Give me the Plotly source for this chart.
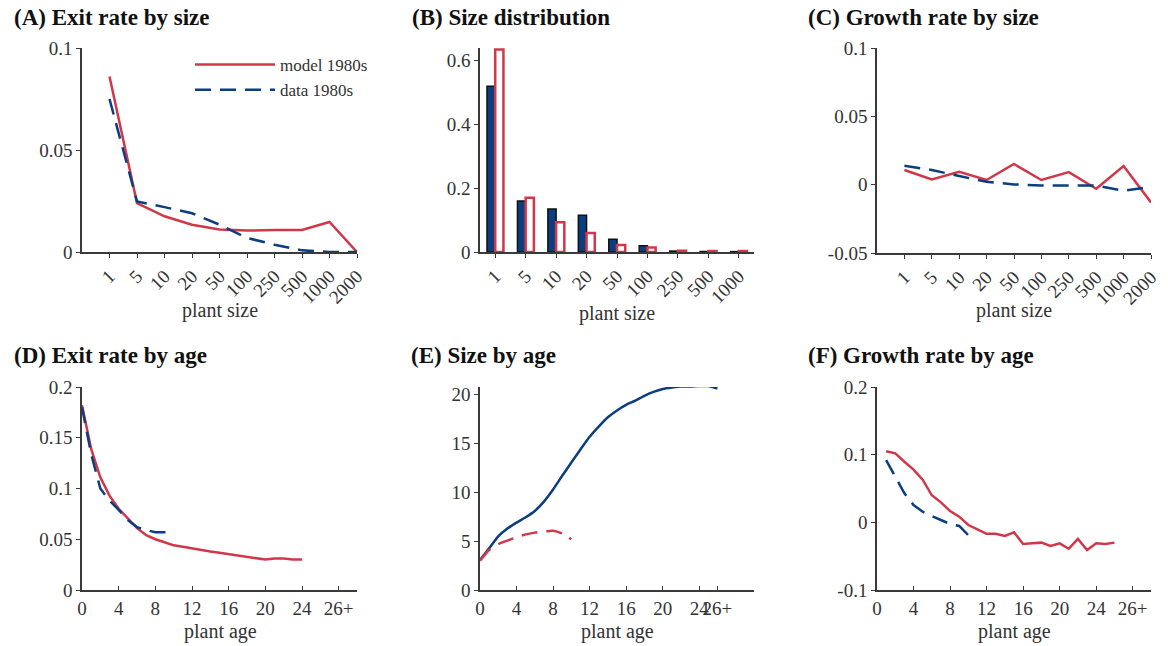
import plotly.graph_objects as go

# ---------------- data ----------------
size_cats = ["1", "5", "10", "20", "50", "100", "250", "500", "1000", "2000"]
exit_size_model = [0.086, 0.024, 0.0175, 0.0134, 0.011, 0.0105, 0.0108, 0.0108, 0.0147, 0.0]
exit_size_data = [0.075, 0.0248, 0.022, 0.019, 0.0134, 0.0069, 0.0036, 0.0008, 0.0, 0.0]

dist_cats = ["1", "5", "10", "20", "50", "100", "250", "500", "1000"]
dist_data = [0.52, 0.16, 0.135, 0.115, 0.04, 0.02, 0.003, 0.0015, 0.0012]
dist_model = [0.635, 0.17, 0.093, 0.06, 0.022, 0.014, 0.004, 0.003, 0.003]

growth_size_model = [0.0107, 0.0038, 0.0095, 0.0034, 0.0151, 0.0034, 0.0092, -0.003, 0.0137, -0.013]
growth_size_data = [0.0139, 0.0107, 0.0063, 0.0021, 0.0002, -0.0006, -0.0006, -0.0006, -0.0045, -0.0015]

age_exit_model = list(range(0, 25))
exit_age_model = [0.182, 0.139, 0.111, 0.093, 0.080, 0.070, 0.061, 0.054, 0.050, 0.047,
                  0.044, 0.0426, 0.041, 0.039, 0.038, 0.0367, 0.0354, 0.034, 0.0328, 0.0318,
                  0.030, 0.031, 0.031, 0.030, 0.030]
age_exit_data = list(range(0, 11))
exit_age_data = [0.180, 0.134, 0.100, 0.088, 0.079, 0.069, 0.062, 0.059, 0.057, 0.057, 0.059]

age_size_blue = list(range(0, 27))
size_age_blue = [3.08, 4.27, 5.5, 6.3, 6.9, 7.45, 8.1, 9.06, 10.3, 11.7, 13.06, 14.4, 15.7,
                 16.75, 17.7, 18.4, 18.97, 19.4, 19.9, 20.3, 20.6, 20.75, 20.85, 20.85, 20.9,
                 20.9, 20.65]
age_size_red = list(range(0, 11))
size_age_red = [3.0, 4.1, 4.7, 5.06, 5.4, 5.7, 5.88, 6.0, 6.08, 5.8, 5.2]

age_growth_model = list(range(1, 27))
growth_age_model = [0.105, 0.102, 0.0895, 0.078, 0.063, 0.040, 0.0295, 0.0167, 0.0084, -0.004,
                    -0.0103, -0.017, -0.017, -0.020, -0.0148, -0.032, -0.031, -0.030, -0.035,
                    -0.031, -0.039, -0.0246, -0.041, -0.031, -0.032, -0.030]
age_growth_data = list(range(1, 11))
growth_age_data = [0.092, 0.067, 0.043, 0.0256, 0.0157, 0.0093, 0.0034, -0.0025, -0.0054, -0.019]

age_tickvals = [0, 4, 8, 12, 16, 20, 24, 28]
age_ticktext = ["0", "4", "8", "12", "16", "20", "24", "26+"]
age_tickvals_e = [0, 4, 8, 12, 16, 20, 24, 26]

titles = ["(A) Exit rate by size", "(B) Size distribution", "(C) Growth rate by size",
          "(D) Exit rate by age", "(E) Size by age", "(F) Growth rate by age"]

# ---------------- style ----------------
RED = "#D0384A"
BLUE = "#0B3E80"
AX = "#3a3a3a"
TXT = "#333333"
SERIF = "Liberation Serif"
DASH = "16px,9px"
LW = 2.5
W, H = 1168, 646

fig = go.Figure()

def xd(a, b):
    return [a / W, b / W]

def yd(top, bot):
    return [1 - bot / H, 1 - top / H]

# panel A
fig.add_trace(go.Scatter(x=size_cats, y=exit_size_model, mode="lines", name="model 1980s",
                         line=dict(color=RED, width=LW), xaxis="x", yaxis="y"))
fig.add_trace(go.Scatter(x=size_cats, y=exit_size_data, mode="lines", name="data 1980s",
                         line=dict(color=BLUE, width=LW, dash=DASH), xaxis="x", yaxis="y"))
# panel B
fig.add_trace(go.Bar(x=dist_cats, y=dist_data, marker=dict(color=BLUE, line=dict(color="#111", width=1.5)),
                     showlegend=False, xaxis="x2", yaxis="y2"))
fig.add_trace(go.Bar(x=dist_cats, y=dist_model, marker=dict(color="white", line=dict(color=RED, width=2.5)),
                     showlegend=False, xaxis="x2", yaxis="y2"))
# panel C
fig.add_trace(go.Scatter(x=size_cats, y=growth_size_model, mode="lines", showlegend=False,
                         line=dict(color=RED, width=LW), xaxis="x3", yaxis="y3"))
fig.add_trace(go.Scatter(x=size_cats, y=growth_size_data, mode="lines", showlegend=False,
                         line=dict(color=BLUE, width=LW, dash=DASH), xaxis="x3", yaxis="y3"))
# panel D
fig.add_trace(go.Scatter(x=age_exit_model, y=exit_age_model, mode="lines", showlegend=False,
                         line=dict(color=RED, width=LW), xaxis="x4", yaxis="y4"))
fig.add_trace(go.Scatter(x=age_exit_data, y=exit_age_data, mode="lines", showlegend=False,
                         line=dict(color=BLUE, width=LW, dash=DASH), xaxis="x4", yaxis="y4"))
# panel E
fig.add_trace(go.Scatter(x=age_size_blue, y=size_age_blue, mode="lines", showlegend=False,
                         line=dict(color=BLUE, width=LW, shape="spline", smoothing=0.6), xaxis="x5", yaxis="y5"))
fig.add_trace(go.Scatter(x=age_size_red, y=size_age_red, mode="lines", showlegend=False,
                         line=dict(color=RED, width=LW, dash=DASH, shape="spline", smoothing=0.6), xaxis="x5", yaxis="y5"))
# panel F
fig.add_trace(go.Scatter(x=age_growth_model, y=growth_age_model, mode="lines", showlegend=False,
                         line=dict(color=RED, width=LW), xaxis="x6", yaxis="y6"))
fig.add_trace(go.Scatter(x=age_growth_data, y=growth_age_data, mode="lines", showlegend=False,
                         line=dict(color=BLUE, width=LW, dash=DASH), xaxis="x6", yaxis="y6"))

tickfont = dict(family=SERIF, size=19, color=TXT)
common = dict(showline=True, linecolor=AX, linewidth=1.5, showgrid=False, zeroline=False,
              tickfont=tickfont, tickcolor=AX, ticklen=4, tickwidth=1.2, automargin=False)

top_y = yd(48, 252)
top_y3 = yd(48, 253)
bot_y = yd(387, 590)
colA = xd(82, 357)
colB = xd(480, 754)
colC = xd(877, 1151)

layout = dict(
    width=W, height=H, margin=dict(l=0, r=0, t=0, b=0, autoexpand=False),
    paper_bgcolor="white", plot_bgcolor="white",
    barmode="group", bargap=0.46, bargroupgap=0.0,
    showlegend=True,
    legend=dict(x=190 / W, y=1 - 47 / H, xanchor="left", yanchor="top",
                font=dict(family=SERIF, size=17, color=TXT), itemwidth=80,
                bgcolor="rgba(0,0,0,0)", tracegroupgap=0),
)

layout["xaxis"] = dict(common, domain=colA, anchor="y", type="category", range=[-1, 9],
                       tickangle=-45, ticks="outside")
layout["yaxis"] = dict(common, domain=top_y, anchor="x", range=[0, 0.1],
                       tickvals=[0, 0.05, 0.1], ticktext=["0", "0.05", "0.1"], ticks="outside")
layout["xaxis2"] = dict(common, domain=colB, anchor="y2", type="category", range=[-0.5, 8.5],
                        tickangle=-45, ticks="outside")
layout["yaxis2"] = dict(common, domain=top_y, anchor="x2", range=[0, 0.64],
                        tickvals=[0, 0.2, 0.4, 0.6], ticktext=["0", "0.2", "0.4", "0.6"], ticks="outside")
layout["xaxis3"] = dict(common, domain=colC, anchor="y3", type="category", range=[-1, 9],
                        tickangle=-45, ticks="outside")
layout["yaxis3"] = dict(common, domain=top_y3, anchor="x3", range=[-0.05, 0.1],
                        tickvals=[-0.05, 0, 0.05, 0.1], ticktext=["-0.05", "0", "0.05", "0.1"], ticks="outside")
layout["xaxis4"] = dict(common, domain=colA, anchor="y4", range=[0, 30], tickangle=0,
                        tickvals=age_tickvals, ticktext=age_ticktext, ticks="inside")
layout["yaxis4"] = dict(common, domain=bot_y, anchor="x4", range=[0, 0.2],
                        tickvals=[0, 0.05, 0.1, 0.15, 0.2], ticktext=["0", "0.05", "0.1", "0.15", "0.2"], ticks="outside")
layout["xaxis5"] = dict(common, domain=colB, anchor="y5", range=[0, 30], tickangle=0,
                        tickvals=age_tickvals_e, ticktext=age_ticktext, ticks="inside")
layout["yaxis5"] = dict(common, domain=bot_y, anchor="x5", range=[0, 20.8],
                        tickvals=[0, 5, 10, 15, 20], ticks="outside")
layout["xaxis6"] = dict(common, domain=colC, anchor="y6", range=[0, 30], tickangle=0,
                        tickvals=age_tickvals, ticktext=age_ticktext, ticks="inside")
layout["yaxis6"] = dict(common, domain=bot_y, anchor="x6", range=[-0.1, 0.2],
                        tickvals=[-0.1, 0, 0.1, 0.2], ticktext=["-0.1", "0", "0.1", "0.2"], ticks="outside")

fig.update_layout(**layout)

# titles
title_pos = [(12, 18), (410, 18), (806, 18), (12, 355), (409, 355), (806, 355)]
for t, (px, py) in zip(titles, title_pos):
    fig.add_annotation(text="<b>" + t + "</b>", x=px / W, y=1 - py / H, xref="paper", yref="paper",
                       xanchor="left", yanchor="middle", showarrow=False,
                       font=dict(family=SERIF, size=23, color="#111"))

# axis titles
for label, cx, cy in [("plant size", 219.5, 310), ("plant size", 617, 313), ("plant size", 1014, 310),
                      ("plant age", 220, 631), ("plant age", 617, 631), ("plant age", 1014, 631)]:
    fig.add_annotation(text=label, x=cx / W, y=1 - cy / H, xref="paper", yref="paper",
                       xanchor="center", yanchor="middle", showarrow=False,
                       font=dict(family=SERIF, size=20, color=TXT))

fig.write_html("out.html", config={"displayModeBar": False},
               post_script="document.body.style.margin='0';document.body.style.padding='0';"
                           "document.documentElement.style.overflow='hidden';")
